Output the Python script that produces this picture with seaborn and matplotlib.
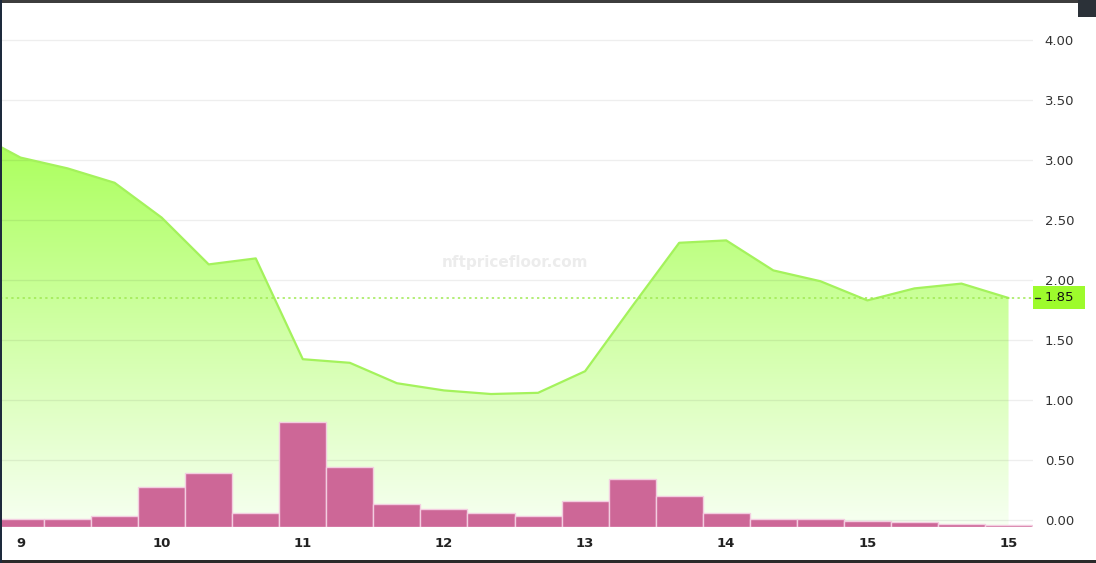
import numpy as np
import pandas as pd
import matplotlib
matplotlib.use("Agg")
import matplotlib.pyplot as plt
import seaborn as sns
from matplotlib.colors import to_rgb
from matplotlib.patches import Rectangle
from matplotlib.lines import Line2D

# ---------------- data ----------------
day_labels = ["9", "10", "11", "12", "13", "14", "15", "15"]
price_before = 3.23  # point just left of the visible window
price = [3.02, 2.93, 2.81, 2.52, 2.13, 2.18, 1.34, 1.31, 1.14, 1.08, 1.05,
         1.06, 1.24, 1.78, 2.31, 2.33, 2.08, 1.99, 1.83, 1.93, 1.97, 1.85]
volume = [8, 8, 11, 40, 54, 14, 105, 60, 23, 18, 14,
          11, 26, 48, 31, 14, 8, 8, 6, 5, 3, 2]
floor_now = 1.85
price_ticks = [0.0, 0.5, 1.0, 1.5, 2.0, 2.5, 3.0, 3.5, 4.0]

# ---------------- style ----------------
sns.set_theme(style="white")
plt.rcParams["font.family"] = ["DejaVu Sans"]

W, H = 1096, 563
fig = plt.figure(figsize=(W / 100, H / 100), dpi=100)
fig.patch.set_facecolor("white")

ax = fig.add_axes([0, 36 / H, 1033 / W, 524 / H])
ax2 = ax.twinx()
ax.set_zorder(2)
ax.patch.set_visible(False)
ax2.set_zorder(1)

XL = (-0.436, 21.52)
YL = (-0.058, 4.308)

# ---- price area with gradient (ax2) ----
n = len(price)
px = list(range(-1, n))
py = [price_before] + price
poly = ax2.fill_between(px, py, YL[0], color="none", lw=0)
top_c = np.array(to_rgb("#a9ff58"))
bot_c = np.array(to_rgb("#f7fff2"))
t = np.linspace(0, 1, 256)[:, None]
grad = bot_c * (1 - t) + top_c * t
img = ax2.imshow(grad[:, None, :], extent=[-1, n, YL[0], 3.25], origin="lower",
                 aspect="auto", zorder=1, interpolation="bilinear")
img.set_clip_path(poly.get_paths()[0], transform=ax2.transData)

for v in price_ticks:
    ax2.axhline(v, color="#000000", alpha=0.065, lw=1, zorder=2)

line_df = pd.DataFrame({"x": px, "price": py})
sns.lineplot(data=line_df, x="x", y="price", ax=ax2, color="#a4f25c", lw=1.6,
             zorder=4, legend=False)
ax2.axhline(floor_now, color="#9fe952", lw=1.1, ls=(0, (1.5, 2.2)), zorder=5)

ax2.set_xlim(*XL)
ax2.set_ylim(*YL)
ax2.set_yticks(price_ticks)
ax2.set_yticklabels([f"{v:.2f}" for v in price_ticks])
ax2.tick_params(axis="y", length=0, pad=8.5, labelsize=9.5, labelcolor="#333333")
ax2.set_ylabel("")
ax2.set_xlabel("")

# ---- volume bars (ax) ----
bar_df = pd.DataFrame({"i": list(range(n)), "vol": volume})
sns.barplot(data=bar_df, x="i", y="vol", ax=ax, color="#cd6797", saturation=1,
            width=1.0, edgecolor="#f3cde0", linewidth=1.0, errorbar=None)
ax.set_xlim(*XL)
ax.set_ylim(0, 524)
ax.set_yticks([])
ax.set_xticks(list(range(0, n, 3)))
ax.set_xticklabels(day_labels, fontweight="bold", fontsize=9.5, color="#222222")
ax.tick_params(axis="x", length=0, pad=7)
ax.set_xlabel("")
ax.set_ylabel("")

for a in (ax, ax2):
    for s in a.spines.values():
        s.set_visible(False)

# watermark
fig.text(515 / W, 1 - 262 / H, "nftpricefloor.com", ha="center", va="center",
         fontsize=11, fontweight="bold", color="#ececec", zorder=3)

# current floor label box
fig.patches.append(Rectangle((1033 / W, (H - 309) / H), 52 / W, 23 / H,
                             transform=fig.transFigure, facecolor="#9dfb2c",
                             edgecolor="none", zorder=10))
fig.lines.append(Line2D([1035 / W, 1040 / W], [(H - 297.5) / H] * 2,
                        transform=fig.transFigure, color="#222222", lw=1, zorder=11))
fig.text(1045 / W, (H - 297.5) / H, f"{floor_now:.2f}", ha="left", va="center",
         fontsize=9.5, color="#111111", zorder=11)

# dark frame
fig.patches.append(Rectangle((0, 1 - 3 / H), 1, 3 / H, transform=fig.transFigure,
                             facecolor="#3d3d3d", edgecolor="none", zorder=12))
fig.patches.append(Rectangle((0, 0), 1, 3 / H, transform=fig.transFigure,
                             facecolor="#2a2a2a", edgecolor="none", zorder=12))
fig.patches.append(Rectangle((0, 0), 2 / W, 1, transform=fig.transFigure,
                             facecolor="#1d2a3c", edgecolor="none", zorder=12))
fig.patches.append(Rectangle((1078 / W, 1 - 17 / H), 18 / W, 17 / H,
                             transform=fig.transFigure, facecolor="#2b3138",
                             edgecolor="none", zorder=12))

fig.savefig("out.png", dpi=100)
